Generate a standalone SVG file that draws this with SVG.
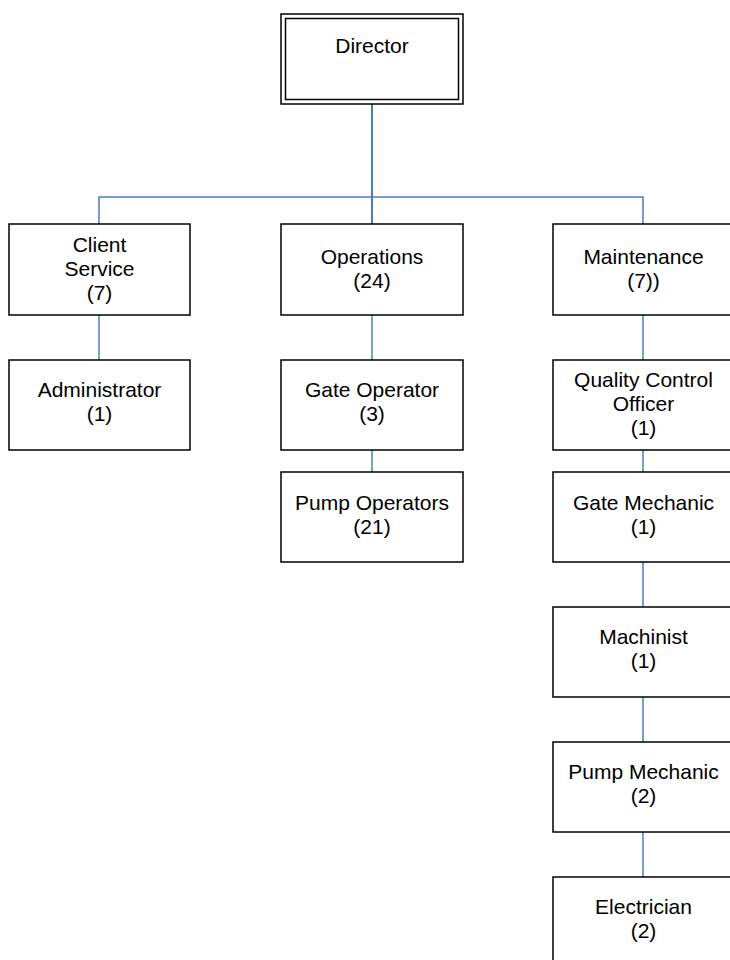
<svg xmlns="http://www.w3.org/2000/svg" width="730" height="960" viewBox="0 0 730 960">
<style>
.box{fill:#fff;stroke:#000;stroke-width:1.5}
.t{font-family:"Liberation Sans",Arial,sans-serif;font-size:21px;fill:#000;text-anchor:middle}
.c{fill:none;stroke:#4a7ebb;stroke-width:1.5}
</style>
<rect width="730" height="960" fill="#fff"/>
<g id="connectors">
<line class="c" x1="372" y1="104" x2="372" y2="224" style="stroke-width:2"/>
<polyline class="c" points="99,224 99,197 643,197 643,224"/>
<line class="c" x1="99" y1="315" x2="99" y2="360"/>
<line class="c" x1="372" y1="315" x2="372" y2="360"/>
<line class="c" x1="372" y1="450" x2="372" y2="472"/>
<line class="c" x1="643" y1="315" x2="643" y2="360"/>
<line class="c" x1="643" y1="450" x2="643" y2="472"/>
<line class="c" x1="643" y1="562" x2="643" y2="607"/>
<line class="c" x1="643" y1="697" x2="643" y2="742"/>
<line class="c" x1="643" y1="832" x2="643" y2="877"/>
</g>
<g id="director">
<rect class="box" x="281" y="14" width="182" height="90"/>
<rect class="box" x="285.5" y="18.5" width="173" height="81"/>
<text class="t" x="372" y="53">Director</text>
</g>
<g id="client-service">
<rect class="box" x="9" y="224" width="181" height="91"/>
<text class="t" x="99.5" y="252">Client</text>
<text class="t" x="99.5" y="276">Service</text>
<text class="t" x="99.5" y="300">(7)</text>
</g>
<g id="operations">
<rect class="box" x="281" y="224" width="182" height="91"/>
<text class="t" x="372" y="264">Operations</text>
<text class="t" x="372" y="288">(24)</text>
</g>
<g id="maintenance">
<rect class="box" x="553" y="224" width="182" height="91"/>
<text class="t" x="643.5" y="264">Maintenance</text>
<text class="t" x="643.5" y="288">(7))</text>
</g>
<g id="administrator">
<rect class="box" x="9" y="360" width="181" height="90"/>
<text class="t" x="99.5" y="397">Administrator</text>
<text class="t" x="99.5" y="421">(1)</text>
</g>
<g id="gate-operator">
<rect class="box" x="281" y="360" width="182" height="90"/>
<text class="t" x="372" y="397">Gate Operator</text>
<text class="t" x="372" y="421">(3)</text>
</g>
<g id="pump-operators">
<rect class="box" x="281" y="472" width="182" height="90"/>
<text class="t" x="372" y="510">Pump Operators</text>
<text class="t" x="372" y="534">(21)</text>
</g>
<g id="quality-control-officer">
<rect class="box" x="553" y="360" width="182" height="90"/>
<text class="t" x="643.5" y="387">Quality Control</text>
<text class="t" x="643.5" y="411">Officer</text>
<text class="t" x="643.5" y="435">(1)</text>
</g>
<g id="gate-mechanic">
<rect class="box" x="553" y="472" width="182" height="90"/>
<text class="t" x="643.5" y="510">Gate Mechanic</text>
<text class="t" x="643.5" y="534">(1)</text>
</g>
<g id="machinist">
<rect class="box" x="553" y="607" width="182" height="90"/>
<text class="t" x="643.5" y="644">Machinist</text>
<text class="t" x="643.5" y="668">(1)</text>
</g>
<g id="pump-mechanic">
<rect class="box" x="553" y="742" width="182" height="90"/>
<text class="t" x="643.5" y="779">Pump Mechanic</text>
<text class="t" x="643.5" y="803">(2)</text>
</g>
<g id="electrician">
<rect class="box" x="553" y="877" width="182" height="90"/>
<text class="t" x="643.5" y="914">Electrician</text>
<text class="t" x="643.5" y="938">(2)</text>
</g>
</svg>
